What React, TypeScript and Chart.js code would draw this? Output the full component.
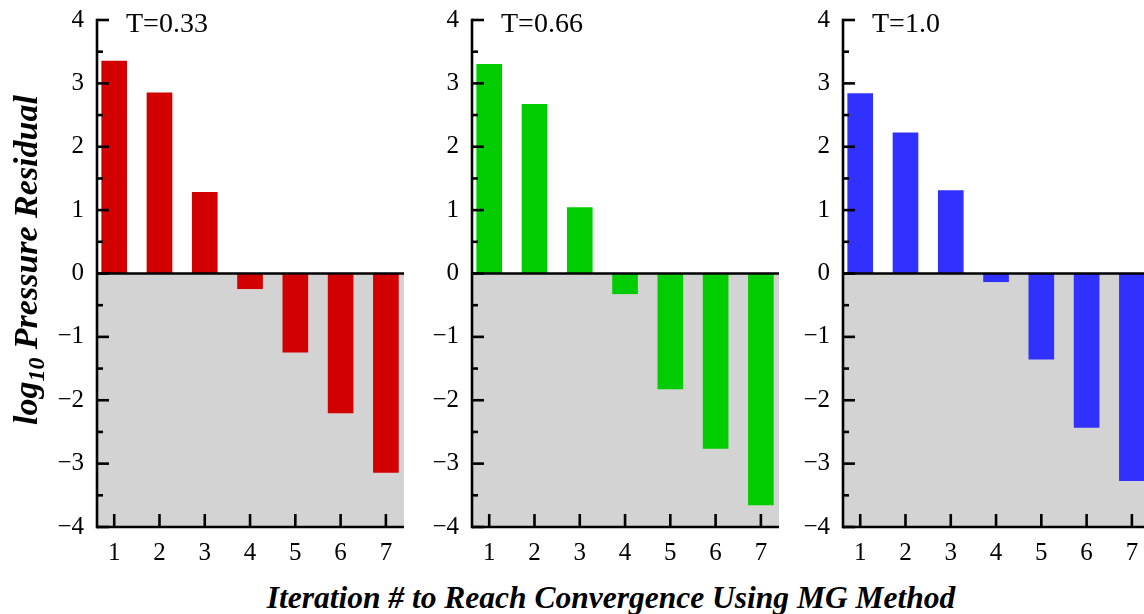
import React, { useEffect, useRef } from 'react';
import { Chart, registerables } from 'chart.js';

Chart.register(...registerables);

// ---- data ----
const iterations = [1, 2, 3, 4, 5, 6, 7];
const residualT033 = [3.35, 2.85, 1.28, -0.24, -1.24, -2.2, -3.14];
const residualT066 = [3.3, 2.67, 1.04, -0.32, -1.82, -2.76, -3.65];
const residualT100 = [2.84, 2.22, 1.31, -0.13, -1.35, -2.43, -3.27];
const panelLabels = ['T=0.33', 'T=0.66', 'T=1.0'];
const yTickValues = [-4, -3, -2, -1, 0, 1, 2, 3, 4];
const yMinorValues = [-3.5, -2.5, -1.5, -0.5, 0.5, 1.5, 2.5, 3.5];
const xTitle = 'Iteration # to Reach Convergence Using MG Method';

// ---- layout / style ----
const FONT = "'Liberation Serif', 'Times New Roman', serif";
Chart.defaults.font.family = FONT;
const PLOT_W = 307;
const Y_AXIS_W = 70;
const PAD_R = 4;
const CANVAS_H = 580;
const PLOT_TOP = 20;
const PLOT_BOTTOM = 527;
const axisLefts = [97, 472, 843];
const barColors = ['rgb(210,0,0)', 'rgb(0,205,0)', 'rgb(48,48,255)'];
const seriesList = [residualT033, residualT066, residualT100];

type PanelProps = { label: string; values: number[]; color: string; axisX: number };

function Panel({ label, values, color, axisX }: PanelProps) {
  const ref = useRef<HTMLCanvasElement>(null);
  useEffect(() => {
    const canvas = ref.current!;
    const line = (ctx: CanvasRenderingContext2D, x1: number, y1: number, x2: number, y2: number) => {
      ctx.beginPath();
      ctx.moveTo(x1, y1);
      ctx.lineTo(x2, y2);
      ctx.stroke();
    };
    const decor = {
      id: 'decor',
      beforeDatasetsDraw(chart: any) {
        const { ctx, chartArea: a, scales } = chart;
        const y0 = scales.y.getPixelForValue(0);
        ctx.save();
        ctx.fillStyle = 'rgb(211,211,211)';
        ctx.fillRect(a.left, y0, a.right - a.left, a.bottom - y0);
        ctx.restore();
      },
      afterDatasetsDraw(chart: any) {
        const { ctx, chartArea: a, scales } = chart;
        const x = scales.x;
        const y = scales.y;
        ctx.save();
        ctx.strokeStyle = '#000';
        ctx.lineWidth = 2.6;
        const y0 = y.getPixelForValue(0);
        line(ctx, a.left, y0, a.right, y0);
        line(ctx, a.left, a.top - 1.3, a.left, a.bottom + 1.3);
        line(ctx, a.left, a.bottom, a.right, a.bottom);
        for (const v of yTickValues) {
          const py = y.getPixelForValue(v);
          line(ctx, a.left, py, a.left + 12, py);
        }
        for (const v of yMinorValues) {
          const py = y.getPixelForValue(v);
          line(ctx, a.left, py, a.left + 6, py);
        }
        for (const v of iterations) {
          const px = x.getPixelForValue(v);
          line(ctx, px, a.bottom, px, a.bottom - 13);
        }
        ctx.fillStyle = '#000';
        ctx.font = `28px ${FONT}`;
        ctx.textBaseline = 'alphabetic';
        ctx.textAlign = 'left';
        ctx.fillText(label, a.left + 29, 32);
        ctx.restore();
      },
    };
    const chart = new Chart(canvas, {
      type: 'bar',
      data: {
        datasets: [
          {
            data: iterations.map((c, i) => ({ x: c, y: values[i] })),
            backgroundColor: color,
            borderWidth: 0,
            barThickness: 25,
          },
        ],
      },
      options: {
        responsive: false,
        animation: false,
        layout: { padding: { top: PLOT_TOP, right: PAD_R, left: 0, bottom: 0 } },
        plugins: { legend: { display: false }, tooltip: { enabled: false }, title: { display: false } },
        scales: {
          x: {
            type: 'linear',
            min: 0.62,
            max: 7.4,
            offset: false,
            grid: { display: false, drawTicks: false },
            border: { display: false },
            afterBuildTicks: (s: any) => {
              s.ticks = iterations.map((v) => ({ value: v }));
            },
            afterFit: (s: any) => {
              s.height = CANVAS_H - PLOT_BOTTOM;
              s.paddingLeft = 0;
              s.paddingRight = 0;
            },
            ticks: {
              font: { family: FONT, size: 25 },
              color: '#000',
              padding: 11,
              maxRotation: 0,
              autoSkip: false,
            },
          },
          y: {
            type: 'linear',
            min: -4,
            max: 4,
            grid: { display: false, drawTicks: false },
            border: { display: false },
            afterBuildTicks: (s: any) => {
              s.ticks = yTickValues.map((v) => ({ value: v }));
            },
            afterFit: (s: any) => {
              s.width = Y_AXIS_W;
              s.paddingTop = 0;
              s.paddingBottom = 0;
            },
            ticks: {
              font: { family: FONT, size: 25 },
              color: '#000',
              padding: 13,
              callback: (v: any) => (Number(v) < 0 ? '\u2212' + Math.abs(Number(v)) : String(v)),
            },
          },
        },
      } as any,
      plugins: [decor],
    });
    return () => chart.destroy();
  }, [label, values, color, axisX]);
  return (
    <canvas
      ref={ref}
      width={Y_AXIS_W + PLOT_W + PAD_R}
      height={CANVAS_H}
      style={{ position: 'absolute', left: axisX - Y_AXIS_W, top: 0 }}
    />
  );
}

export default function App() {
  return (
    <div
      style={{
        position: 'absolute',
        left: 0,
        top: 0,
        width: 1144,
        height: 614,
        overflow: 'hidden',
        background: '#fff',
      }}
    >
      {panelLabels.map((lab, i) => (
        <Panel key={lab} label={lab} values={seriesList[i]} color={barColors[i]} axisX={axisLefts[i]} />
      ))}
      <div
        style={{
          position: 'absolute',
          left: 23.5 - 220,
          top: 260 - 17,
          width: 440,
          height: 34,
          lineHeight: '34px',
          textAlign: 'center',
          transform: 'rotate(-90deg)',
          transformOrigin: 'center',
          font: `bold italic 34px ${FONT}`,
          whiteSpace: 'nowrap',
          color: '#000',
        }}
      >
        log<sub style={{ fontSize: '0.7em', verticalAlign: '-0.3em', lineHeight: 0 }}>10</sub> Pressure Residual
      </div>
      <div
        style={{
          position: 'absolute',
          left: 611 - 450,
          top: 580,
          width: 900,
          lineHeight: '31px',
          textAlign: 'center',
          font: `bold italic 31.5px ${FONT}`,
          whiteSpace: 'nowrap',
          color: '#000',
        }}
      >
        {xTitle}
      </div>
    </div>
  );
}
